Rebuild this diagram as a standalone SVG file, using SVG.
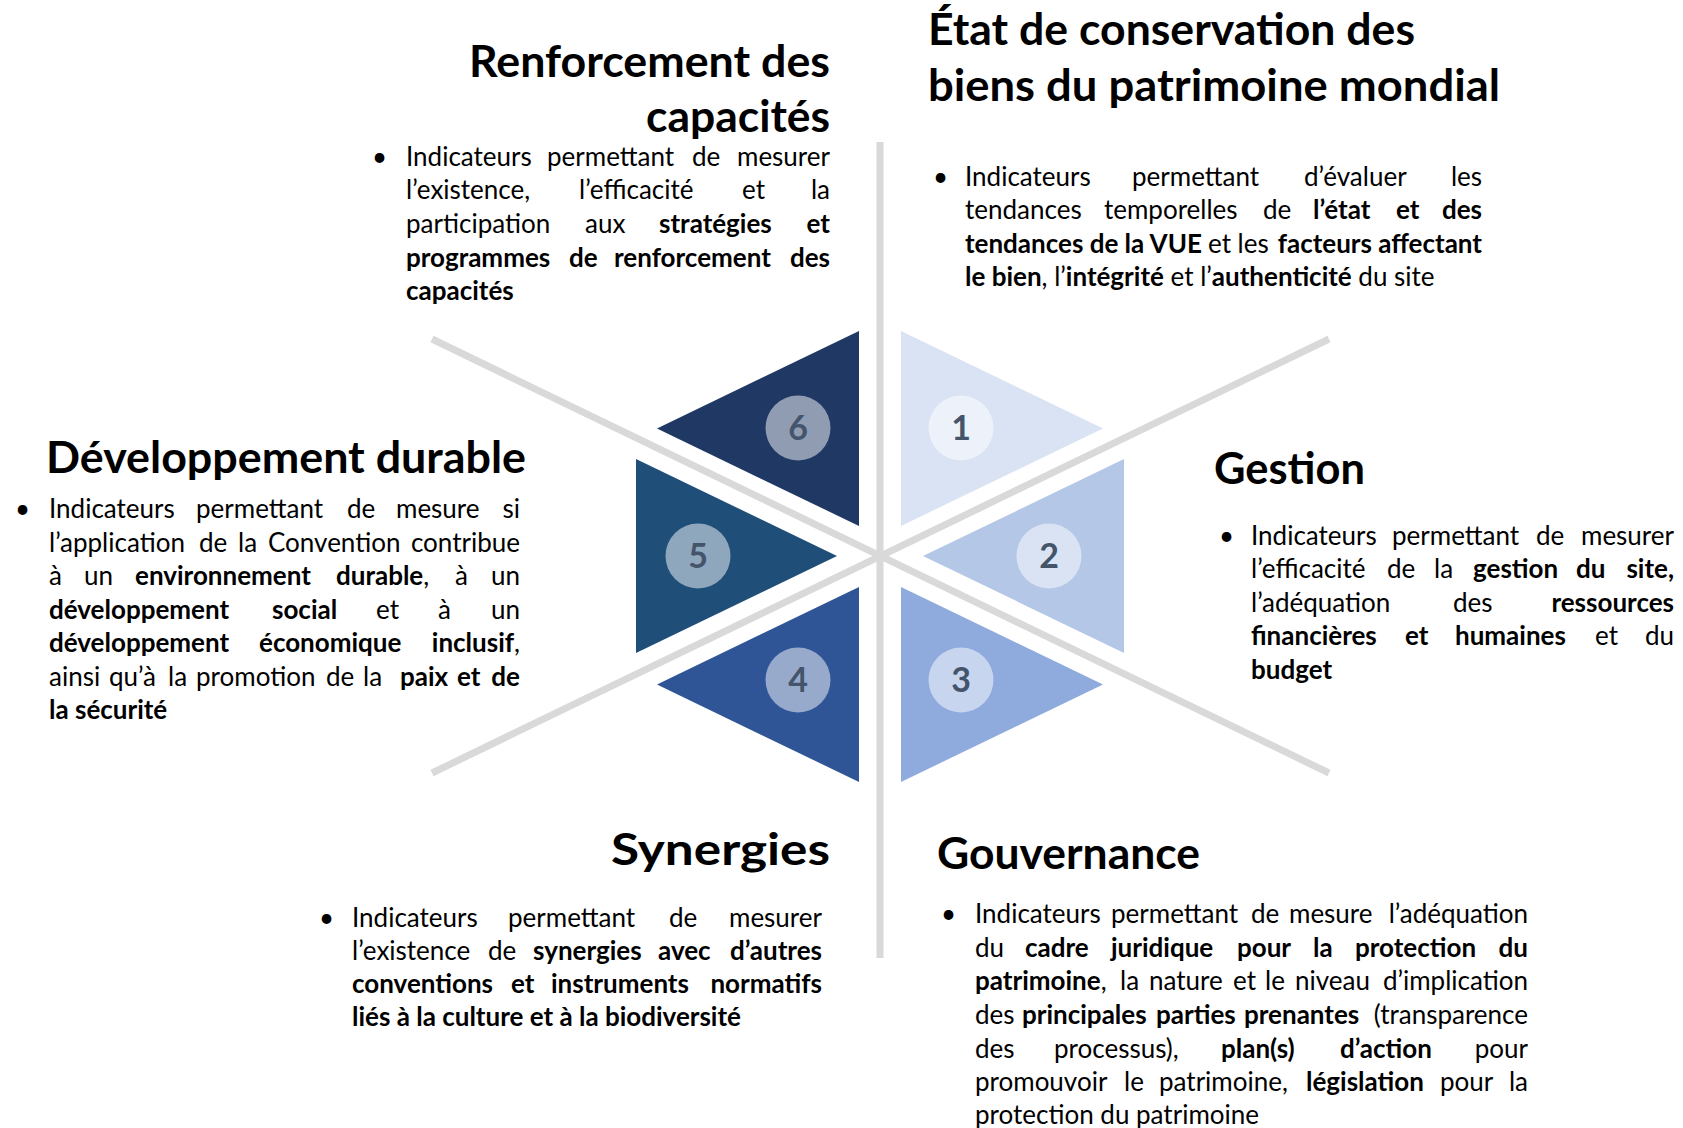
<svg xmlns="http://www.w3.org/2000/svg" width="1683" height="1128" viewBox="0 0 1683 1128">
<style>
text{font-family:Lato,"Liberation Sans",sans-serif;fill:#000}
.h{font-size:44px;font-weight:700}
.b{font-size:26px}
.e{text-anchor:end}
.k{font-weight:700}
.n{font-size:34px;font-weight:700;fill:#44546A;text-anchor:middle}
.c{fill:#fff;fill-opacity:0.5}
.ln{stroke:#D9D9D9;stroke-width:7;fill:none}
</style>
<rect width="1683" height="1128" fill="#fff"/>
<g id="connectors">
<line class="ln" x1="880" y1="142" x2="880" y2="958"/>
<line class="ln" x1="432" y1="339" x2="1329" y2="773"/>
<line class="ln" x1="432" y1="773" x2="1329" y2="339"/>
</g>
<g id="seg1"><polygon points="901,331 901,526 1103,428.5" fill="#DAE3F3"/><circle class="c" cx="961" cy="428" r="32.5"/><text class="n" x="961" y="440">1</text></g>
<g id="seg2"><polygon points="1124,459 1124,653 923,556" fill="#B4C7E7"/><circle class="c" cx="1049" cy="556" r="32.5"/><text class="n" x="1049" y="568">2</text></g>
<g id="seg3"><polygon points="901,587 901,782 1103,684.5" fill="#8FAADC"/><circle class="c" cx="961" cy="680" r="32.5"/><text class="n" x="961" y="692">3</text></g>
<g id="seg4"><polygon points="859,587 859,782 657,684.5" fill="#2F5597"/><circle class="c" cx="798" cy="680" r="32.5"/><text class="n" x="798" y="692">4</text></g>
<g id="seg5"><polygon points="636,459 636,653 837,556" fill="#1F4E79"/><circle class="c" cx="698" cy="556" r="32.5"/><text class="n" x="698" y="568">5</text></g>
<g id="seg6"><polygon points="859,331 859,526 657,428.5" fill="#203864"/><circle class="c" cx="798" cy="428" r="32.5"/><text class="n" x="798" y="440">6</text></g>

<g id="renforcement">
<text class="h" x="469" y="77" textLength="361" lengthAdjust="spacingAndGlyphs">Renforcement des</text>
<text class="h" x="646" y="132" textLength="184" lengthAdjust="spacingAndGlyphs">capacités</text>
<text class="b" x="372" y="166">•</text>
<text class="b" y="166"><tspan x="406">Indicateurs</tspan><tspan x="547">permettant</tspan><tspan x="692">de</tspan></text><text class="b e" x="830" y="166">mesurer</text>
<text class="b" y="199"><tspan x="406">l’existence,</tspan><tspan x="579">l’efficacité</tspan><tspan x="742">et</tspan></text><text class="b e" x="830" y="199">la</text>
<text class="b" y="233"><tspan x="406">participation</tspan><tspan x="585">aux</tspan><tspan x="659" class="k">stratégies</tspan></text><text class="b e k" x="830" y="233">et</text>
<text class="b k" y="267"><tspan x="406">programmes</tspan><tspan x="569">de</tspan><tspan x="614">renforcement</tspan></text><text class="b e k" x="830" y="267">des</text>
<text class="b k" x="406" y="300">capacités</text>
</g>

<g id="etat">
<text class="h" x="928" y="45" textLength="487" lengthAdjust="spacingAndGlyphs">État de conservation des</text>
<text class="h" x="928" y="101" textLength="572" lengthAdjust="spacingAndGlyphs">biens du patrimoine mondial</text>
<text class="b" x="933" y="186">•</text>
<text class="b" y="186"><tspan x="965">Indicateurs</tspan><tspan x="1132">permettant</tspan><tspan x="1304">d’évaluer</tspan></text><text class="b e" x="1482" y="186">les</text>
<text class="b" y="219"><tspan x="965">tendances</tspan><tspan x="1104">temporelles</tspan><tspan x="1263">de</tspan><tspan x="1313" class="k">l’état</tspan><tspan x="1396" class="k">et</tspan></text><text class="b e k" x="1482" y="219">des</text>
<text class="b" y="253"><tspan x="965" class="k">tendances de la VUE</tspan><tspan x="1208">et les</tspan></text><text class="b e k" x="1482" y="253">facteurs affectant</text>
<text class="b" x="965" y="286"><tspan class="k">le bien</tspan>, l’<tspan class="k">intégrité</tspan> et l’<tspan class="k">authenticité</tspan> du site</text>
</g>

<g id="gestion">
<text class="h" x="1214" y="484" textLength="151" lengthAdjust="spacingAndGlyphs">Gestion</text>
<text class="b" x="1219" y="545">•</text>
<text class="b" y="545"><tspan x="1251">Indicateurs</tspan><tspan x="1392">permettant</tspan><tspan x="1536">de</tspan></text><text class="b e" x="1674" y="545">mesurer</text>
<text class="b" y="578"><tspan x="1251">l’efficacité</tspan><tspan x="1387">de</tspan><tspan x="1434">la</tspan><tspan x="1473" class="k">gestion</tspan><tspan x="1576" class="k">du</tspan></text><text class="b e k" x="1674" y="578">site,</text>
<text class="b" y="612"><tspan x="1251">l’adéquation</tspan><tspan x="1453">des</tspan></text><text class="b e k" x="1674" y="612">ressources</text>
<text class="b" y="645"><tspan x="1251" class="k">financières</tspan><tspan x="1405" class="k">et</tspan><tspan x="1455" class="k">humaines</tspan><tspan x="1595">et</tspan></text><text class="b e" x="1674" y="645">du</text>
<text class="b k" x="1251" y="679">budget</text>
</g>

<g id="developpement">
<text class="h" x="46" y="473" textLength="480" lengthAdjust="spacingAndGlyphs">Développement durable</text>
<text class="b" x="15" y="518">•</text>
<text class="b" y="518"><tspan x="49">Indicateurs</tspan><tspan x="196">permettant</tspan><tspan x="347">de</tspan><tspan x="396">mesure</tspan></text><text class="b e" x="520" y="518">si</text>
<text class="b" y="552"><tspan x="49">l’application</tspan><tspan x="199">de</tspan><tspan x="238">la</tspan><tspan x="268">Convention</tspan></text><text class="b e" x="520" y="552">contribue</text>
<text class="b" y="585"><tspan x="49">à</tspan><tspan x="84">un</tspan><tspan x="135" class="k">environnement</tspan><tspan x="336" class="k">durable</tspan>,<tspan x="455">à</tspan></text><text class="b e" x="520" y="585">un</text>
<text class="b" y="619"><tspan x="49" class="k">développement</tspan><tspan x="272" class="k">social</tspan><tspan x="376">et</tspan><tspan x="438">à</tspan></text><text class="b e" x="520" y="619">un</text>
<text class="b" y="652"><tspan x="49" class="k">développement</tspan><tspan x="259" class="k">économique</tspan></text><text class="b e" x="520" y="652"><tspan class="k">inclusif</tspan>,</text>
<text class="b" y="686"><tspan x="49">ainsi</tspan><tspan x="109">qu’à</tspan><tspan x="168">la</tspan><tspan x="196">promotion</tspan><tspan x="326">de</tspan><tspan x="363">la</tspan><tspan x="400" class="k">paix</tspan><tspan x="457" class="k">et</tspan></text><text class="b e k" x="520" y="686">de</text>
<text class="b k" x="49" y="719">la sécurité</text>
</g>

<g id="synergies">
<text class="h" x="611" y="865" textLength="219" lengthAdjust="spacingAndGlyphs">Synergies</text>
<text class="b" x="319" y="927">•</text>
<text class="b" y="927"><tspan x="352">Indicateurs</tspan><tspan x="508">permettant</tspan><tspan x="669">de</tspan></text><text class="b e" x="822" y="927">mesurer</text>
<text class="b" y="960"><tspan x="352">l’existence</tspan><tspan x="488">de</tspan><tspan x="533" class="k">synergies</tspan><tspan x="658" class="k">avec</tspan></text><text class="b e k" x="822" y="960">d’autres</text>
<text class="b k" y="993"><tspan x="352">conventions</tspan><tspan x="511">et</tspan><tspan x="551">instruments</tspan></text><text class="b e k" x="822" y="993">normatifs</text>
<text class="b k" x="352" y="1026">liés à la culture et à la biodiversité</text>
</g>

<g id="gouvernance">
<text class="h" x="937" y="869" textLength="263" lengthAdjust="spacingAndGlyphs">Gouvernance</text>
<text class="b" x="941" y="923">•</text>
<text class="b" y="923"><tspan x="975">Indicateurs</tspan><tspan x="1111">permettant</tspan><tspan x="1251">de</tspan><tspan x="1289">mesure</tspan></text><text class="b e" x="1528" y="923">l’adéquation</text>
<text class="b" y="957"><tspan x="975">du</tspan><tspan x="1025" class="k">cadre</tspan><tspan x="1111" class="k">juridique</tspan><tspan x="1237" class="k">pour</tspan><tspan x="1313" class="k">la</tspan><tspan x="1355" class="k">protection</tspan></text><text class="b e k" x="1528" y="957">du</text>
<text class="b" y="990"><tspan x="975" class="k">patrimoine</tspan>,<tspan x="1120">la</tspan><tspan x="1149">nature</tspan><tspan x="1233">et</tspan><tspan x="1265">le</tspan><tspan x="1295">niveau</tspan></text><text class="b e" x="1528" y="990">d’implication</text>
<text class="b" y="1024"><tspan x="975">des</tspan><tspan x="1022" class="k">principales</tspan><tspan x="1156" class="k">parties</tspan><tspan x="1244" class="k">prenantes</tspan></text><text class="b e" x="1528" y="1024">(transparence</text>
<text class="b" y="1058"><tspan x="975">des</tspan><tspan x="1054">processus),</tspan><tspan x="1221" class="k">plan(s)</tspan><tspan x="1340" class="k">d’action</tspan></text><text class="b e" x="1528" y="1058">pour</text>
<text class="b" y="1091"><tspan x="975">promouvoir</tspan><tspan x="1124">le</tspan><tspan x="1159">patrimoine,</tspan><tspan x="1306" class="k">législation</tspan><tspan x="1440">pour</tspan></text><text class="b e" x="1528" y="1091">la</text>
<text class="b" x="975" y="1124">protection du patrimoine</text>
</g>
</svg>
